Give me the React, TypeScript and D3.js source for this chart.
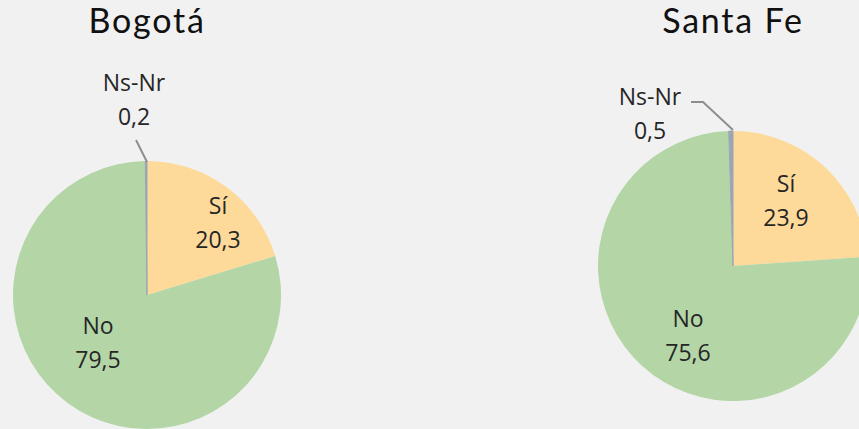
import React from "react";
import * as d3 from "d3";

const categories = ["Sí", "No", "Ns-Nr"];
const titles = ["Bogotá", "Santa Fe"];
const bogotaValues = [20.3, 79.5, 0.2];
const santaFeValues = [23.9, 75.6, 0.5];
const valueLabels = [["20,3", "79,5", "0,2"], ["23,9", "75,6", "0,5"]];

const colors = ["#FEDA9A", "#B4D5A6", "#9AA5B8"];

// layout (not data)
const W = 859, H = 429;
const pies = [
  { cx: 147, cy: 295, r: 134, titleY: 33,
    labels: [[71, -81], [-49, 39], [-13, -204]],
    leader: [[-11, -155], [0, -133]] },
  { cx: 733, cy: 266, r: 135, titleY: 33,
    labels: [[53, -74], [-45, 61], [-83, -161]],
    leader: [[-42, -164], [-30, -164], [0, -136]] },
];

function Pie({ values, idx }: { values: number[]; idx: number }) {
  const p = pies[idx];
  const arcs = d3.pie<number>().sort(null).value((d) => d)(values);
  const arc = d3.arc<d3.PieArcDatum<number>>().innerRadius(0).outerRadius(p.r);
  const line = d3.line();
  return (
    <g>
      <text x={p.cx} y={p.titleY} textAnchor="middle" fontFamily="Lato, sans-serif"
        fontSize={34} letterSpacing={1.8} fill="#111">{titles[idx]}</text>
      <g transform={`translate(${p.cx},${p.cy})`}>
        {arcs.map((a, i) => (
          <path key={i} d={arc(a) || ""} fill={colors[i]} stroke={i === 2 ? colors[2] : "none"} strokeWidth={1} />
        ))}
        <path d={line(p.leader as [number, number][]) || ""} fill="none" stroke="#8E8E8E" strokeWidth={2} />
        {arcs.map((a, i) => {
          const [lx, ly] = p.labels[i];
          return (
            <text key={i} textAnchor="middle" fontFamily="'Open Sans', sans-serif" fontSize={23} fill="#262626">
              <tspan x={lx} y={ly}>{categories[i]}</tspan>
              <tspan x={lx} y={ly + 34}>{valueLabels[idx][i]}</tspan>
            </text>
          );
        })}
      </g>
    </g>
  );
}

export default function App() {
  return (
    <svg width={W} height={H} style={{ position: "absolute", left: 0, top: 0, display: "block" }}>
      <rect width={W} height={H} fill="#F1F1F1" />
      <Pie values={bogotaValues} idx={0} />
      <Pie values={santaFeValues} idx={1} />
    </svg>
  );
}
